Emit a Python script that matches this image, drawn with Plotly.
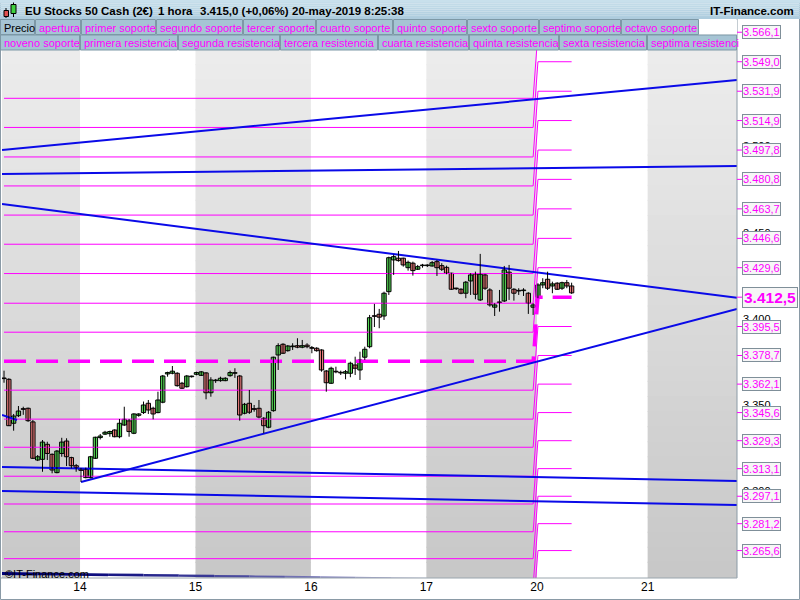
import plotly.graph_objects as go

# ---------------- data ----------------
# hourly bars, index 0 = 14 May 00:00 (weekend removed)
bar_idx = list(range(-16, 103))
opens = [3365.5, 3364.9, 3339.4, 3343.8, 3347.7, 3348.1, 3340.2, 3318.1, 3318.5, 3327.2, 3321.4, 3310.8, 3321.9, 3329.1, 3319.5, 3314.8,
         3312.9, 3312.7, 3307.9, 3319.1, 3331.1, 3333.1, 3333.4, 3335.5, 3331.6, 3338.4, 3340.8, 3333.6, 3344.0, 3345.6, 3351.0, 3348.1,
         3345.6, 3351.6, 3368.0, 3368.4, 3368.4, 3362.6, 3360.6, 3366.4,
         3367.8, 3367.2, 3368.6, 3357.1, 3364.1, 3364.1, 3364.1, 3367.0, 3368.4, 3366.8, 3345.2, 3351.0, 3347.7, 3348.1, 3342.3, 3337.1,
         3346.7, 3379.0, 3385.2, 3381.5, 3383.8, 3384.4, 3383.5, 3384.7,
         3383.1, 3382.9, 3381.9, 3369.7, 3362.6, 3369.3, 3368.8, 3368.4, 3368.4, 3373.2, 3370.3, 3377.7, 3383.8, 3401.6, 3402.6, 3401.6,
         3415.7, 3434.1, 3435.1, 3435.1, 3429.6, 3432.2, 3428.7, 3430.8,
         3430.8, 3430.6, 3433.1, 3430.8, 3429.8, 3426.4, 3417.5, 3417.1, 3414.8, 3421.9, 3426.0, 3410.9, 3425.4, 3416.7, 3406.7, 3409.6,
         3410.3, 3427.0, 3417.1, 3416.3, 3416.3, 3414.8, 3406.7,
         3412.5, 3419.6, 3422.9, 3419.0, 3420.6, 3417.7, 3420.9, 3419.0]
highs = [3369.9, 3365.5, 3344.8, 3349.4, 3349.0, 3348.5, 3341.3, 3321.0, 3329.7, 3328.7, 3321.9, 3323.9, 3331.0, 3330.7, 3320.0, 3315.8,
         3313.5, 3313.7, 3320.5, 3331.6, 3333.2, 3335.0, 3335.1, 3335.9, 3341.9, 3349.0, 3341.9, 3345.2, 3345.2, 3352.0, 3352.9, 3349.0,
         3357.7, 3367.4, 3369.3, 3372.6, 3369.0, 3363.4, 3367.4, 3367.0,
         3369.3, 3369.7, 3369.0, 3366.1, 3365.1, 3366.4, 3366.1, 3369.9, 3371.3, 3367.4, 3351.2, 3358.7, 3350.0, 3352.9, 3343.0, 3346.5,
         3378.0, 3385.8, 3385.8, 3384.8, 3385.8, 3388.7, 3387.7, 3385.8,
         3384.2, 3383.5, 3382.3, 3370.3, 3372.2, 3372.2, 3369.9, 3370.3, 3375.1, 3378.0, 3380.9, 3383.8, 3402.2, 3408.6, 3405.7, 3415.7,
         3436.0, 3437.2, 3439.3, 3435.4, 3433.7, 3433.1, 3431.2, 3431.8,
         3431.6, 3433.5, 3434.1, 3432.2, 3430.8, 3426.7, 3418.0, 3417.7, 3421.9, 3426.4, 3427.3, 3437.6, 3426.0, 3417.7, 3409.0, 3416.7,
         3430.6, 3431.2, 3417.7, 3417.7, 3417.7, 3415.4, 3409.0,
         3420.6, 3423.5, 3427.3, 3421.5, 3421.2, 3421.5, 3422.5, 3420.9]
lows = [3362.9, 3337.8, 3335.1, 3343.0, 3344.3, 3340.2, 3318.7, 3317.5, 3311.3, 3318.1, 3310.4, 3310.4, 3320.0, 3314.6, 3313.3, 3311.3,
        3305.4, 3307.5, 3307.5, 3318.7, 3330.0, 3332.6, 3331.6, 3331.3, 3330.7, 3337.8, 3331.6, 3333.1, 3343.2, 3344.8, 3344.8, 3341.7,
        3345.2, 3351.0, 3366.4, 3367.8, 3360.6, 3359.3, 3360.1, 3365.9,
        3367.2, 3366.8, 3353.3, 3354.8, 3362.8, 3363.5, 3363.8, 3366.4, 3365.7, 3340.9, 3344.6, 3344.8, 3346.1, 3342.3, 3333.6, 3336.5,
        3346.1, 3370.3, 3379.6, 3380.9, 3381.9, 3382.9, 3382.9, 3382.9,
        3380.0, 3380.9, 3369.3, 3357.7, 3362.2, 3368.4, 3367.4, 3364.9, 3366.1, 3367.4, 3364.5, 3376.1, 3382.9, 3395.2, 3394.5, 3399.3,
        3413.8, 3425.4, 3433.1, 3430.2, 3427.9, 3425.0, 3428.3, 3429.6,
        3430.0, 3430.2, 3424.8, 3427.7, 3425.8, 3416.7, 3416.7, 3414.2, 3411.9, 3413.8, 3411.3, 3410.3, 3416.7, 3407.0, 3401.6, 3404.1,
        3409.7, 3410.9, 3410.5, 3413.8, 3413.2, 3402.8, 3402.2,
        3411.9, 3417.7, 3416.7, 3414.8, 3416.7, 3416.7, 3417.7, 3414.4]
closes = [3365.3, 3338.0, 3343.6, 3346.5, 3347.5, 3340.9, 3319.1, 3320.0, 3328.5, 3321.9, 3312.3, 3323.3, 3328.5, 3320.0, 3314.8, 3313.7,
          3312.1, 3307.9, 3320.0, 3331.3, 3332.0, 3334.2, 3334.6, 3331.6, 3339.4, 3341.7, 3334.6, 3344.8, 3344.8, 3350.0, 3347.1, 3344.8,
          3352.9, 3366.8, 3368.8, 3369.6, 3361.2, 3359.7, 3366.8, 3366.6,
          3368.8, 3369.2, 3357.1, 3364.5, 3364.3, 3365.5, 3365.5, 3368.8, 3368.6, 3344.2, 3350.4, 3345.8, 3347.5, 3343.0, 3338.0, 3345.8,
          3377.7, 3384.4, 3380.0, 3384.2, 3384.2, 3383.5, 3384.4, 3383.8,
          3382.9, 3381.5, 3370.3, 3362.9, 3371.3, 3369.2, 3368.6, 3369.3, 3374.2, 3371.3, 3376.1, 3382.3, 3400.6, 3401.4, 3400.9, 3414.8,
          3435.4, 3436.0, 3433.7, 3431.2, 3432.7, 3427.9, 3430.2, 3431.0,
          3430.9, 3432.5, 3429.6, 3428.7, 3426.4, 3417.1, 3417.4, 3414.8, 3421.2, 3425.4, 3414.2, 3425.8, 3417.7, 3408.0, 3408.0, 3409.4,
          3428.3, 3417.7, 3414.8, 3416.1, 3416.5, 3409.0, 3408.0,
          3419.6, 3420.9, 3417.7, 3420.2, 3417.1, 3420.9, 3419.0, 3415.0]

day_labels = ["14", "15", "16", "17", "20", "21"]
day_start = [0, 24, 48, 72, 95, 118]
new_week_start = 95

# weekly pivot levels: previous week -> current week
old_apertura, new_apertura = 3375.4, 3412.5
old_res = [3392.2, 3409.0, 3426.2, 3443.2, 3460.1, 3477.0, 3493.8, 3510.9, 3527.8]
new_res = [3429.6, 3446.6, 3463.7, 3480.8, 3497.8, 3514.9, 3531.9, 3549.0, 3566.1]
old_sup = [3358.6, 3341.8, 3325.5, 3308.7, 3292.6, 3276.5, 3260.9, 3245.5, 3230.3]
new_sup = [3395.5, 3378.7, 3362.1, 3345.6, 3329.3, 3313.1, 3297.1, 3281.2, 3265.6]

# trend lines (bar index, price)
trend_x0 = [-16.42, -16.42, -16.42, 0.0, -16.42, -16.42, -16.42]
trend_y0 = [3497.8, 3483.9, 3466.5, 3305.4, 3314.1, 3300.2, 3344.2]
trend_x1 = [136.38, 136.38, 136.38, 136.38, 136.38, 136.38, -13.3]
trend_y1 = [3538.4, 3488.6, 3412.1, 3405.7, 3306.0, 3292.0, 3341.3]
navy_x = [-16.42, 71.8]
navy_y = [3252.3, 3249.4]

axis_ticks = [3500, 3450, 3400, 3350, 3300]

legend_row1 = ["Precio", "apertura", "primer soporte", "segundo soporte", "tercer soporte", "cuarto soporte",
               "quinto soporte", "sexto soporte", "septimo soporte", "octavo soporte"]
legend_row2 = ["noveno soporte", "primera resistencia", "segunda resistencia", "tercera resistencia",
               "cuarta resistencia", "quinta resistencia", "sexta resistencia", "septima resistenci"]

title_parts = ["EU Stocks 50 Cash (2€)", "1 hora", "3.415,0 (+0,06%)", "20-may-2019 8:25:38"]

# ---------------- layout geometry ----------------
W, H = 800, 600
X0, X1, YT, YB = 2, 737, 35, 578
xr = [-16.42, 136.38]
yr = [3249.7, 3564.5]
FONT = "Liberation Sans, Arial, sans-serif"
MAG = "#ff00ff"

def pxx(x):
    return (x - X0) / (X1 - X0)

def pxy(y):
    return (YB - y) / (YB - YT)

def vy(v):
    return (v - yr[0]) / (yr[1] - yr[0])

def fmt(v):
    s = f"{v:,.1f}"
    return s.replace(",", "#").replace(".", ",").replace("#", ".")

fig = go.Figure()
shapes = []
ann = []

# alternating day bands with vertical gradient
bounds = [xr[0]] + [d - 0.2 for d in day_start] + [xr[1]]
N = 36
for k in range(len(bounds) - 1):
    if k % 2 == 0:
        a, b = bounds[k], bounds[k + 1]
        for j in range(N):
            t = j / (N - 1)
            g = int(238 - 38 * t)
            shapes.append(dict(type="rect", xref="x", yref="paper", x0=a, x1=b,
                               y0=1 - (j + 1) / N, y1=1 - j / N + 0.002,
                               fillcolor=f"rgb({g},{g},{g})", line=dict(width=0), layer="below"))

# pivot level lines
n_old = sum(1 for i in bar_idx if i < new_week_start)
n_new = len(bar_idx) - n_old
for o, n in zip(old_res + old_sup, new_res + new_sup):
    fig.add_trace(go.Scatter(x=bar_idx, y=[o] * n_old + [n] * n_new, mode="lines",
                             line=dict(color=MAG, width=1), hoverinfo="skip", showlegend=False))
fig.add_trace(go.Scatter(x=bar_idx, y=[old_apertura] * n_old + [new_apertura] * n_new, mode="lines",
                         line=dict(color=MAG, width=3.5, dash="22px,10px"), hoverinfo="skip", showlegend=False))

# trend lines
for xa, ya, xb, yb in zip(trend_x0, trend_y0, trend_x1, trend_y1):
    fig.add_trace(go.Scatter(x=[xa, xb], y=[ya, yb], mode="lines",
                             line=dict(color="#0a0ae8", width=2), hoverinfo="skip", showlegend=False))
NS = 12
for j in range(NS):
    t0, t1 = j / NS, (j + 1) / NS
    xa = navy_x[0] + (navy_x[1] - navy_x[0]) * t0
    xb = navy_x[0] + (navy_x[1] - navy_x[0]) * t1
    ya = navy_y[0] + (navy_y[1] - navy_y[0]) * t0
    yb = navy_y[0] + (navy_y[1] - navy_y[0]) * t1
    c = [int(210 * t0 ** 1.5), int(210 * t0 ** 1.5), int(120 + 110 * t0 ** 1.5)]
    fig.add_trace(go.Scatter(x=[xa, xb], y=[ya, yb], mode="lines",
                             line=dict(color=f"rgb({c[0]},{c[1]},{c[2]})", width=3 - 1.5 * t0),
                             hoverinfo="skip", showlegend=False))

# candles: wicks
wx, wy = [], []
for i, h, l in zip(bar_idx, highs, lows):
    wx += [i, i, None]
    wy += [l, h, None]
fig.add_trace(go.Scatter(x=wx, y=wy, mode="lines", line=dict(color="black", width=1),
                         hoverinfo="skip", showlegend=False))
# candles: bodies
for up, col in ((True, "#55d655"), (False, "#e87c7c")):
    xs, bases, hs = [], [], []
    for i, o, c in zip(bar_idx, opens, closes):
        if (c >= o) == up:
            xs.append(i)
            bases.append(min(o, c))
            hs.append(max(abs(c - o), 0.35))
    fig.add_trace(go.Bar(x=xs, y=hs, base=bases, width=0.9, marker=dict(color=col, line=dict(color="black", width=1)),
                         hoverinfo="skip", showlegend=False))

# frame lines
shapes.append(dict(type="line", xref="paper", yref="paper", x0=pxx(X1), x1=pxx(X1), y0=pxy(YB), y1=pxy(19),
                   line=dict(color="#8a9aa6", width=1)))
shapes.append(dict(type="rect", xref="paper", yref="paper", x0=pxx(0.5), x1=pxx(799.5), y0=pxy(599.5), y1=pxy(0.5),
                   line=dict(color="#8a9aa6", width=1), fillcolor="rgba(0,0,0,0)"))
shapes.append(dict(type="line", xref="paper", yref="paper", x0=pxx(0.5), x1=pxx(X1), y0=pxy(YB), y1=pxy(YB),
                   line=dict(color="#9aa6ae", width=1)))

# header bar
NH = 10
for j in range(NH):
    t = j / (NH - 1)
    r, g, b = int(200 - 26 * t), int(224 - 20 * t), int(236 - 14 * t)
    shapes.append(dict(type="rect", xref="paper", yref="paper", x0=pxx(0), x1=pxx(800),
                       y0=pxy(1.9 * (j + 1)), y1=pxy(1.9 * j), fillcolor=f"rgb({r},{g},{b})", line=dict(width=0)))
# candle icon
shapes += [
    dict(type="line", xref="paper", yref="paper", x0=pxx(6), x1=pxx(6), y0=pxy(18), y1=pxy(8), line=dict(color="black", width=1)),
    dict(type="rect", xref="paper", yref="paper", x0=pxx(4), x1=pxx(8.5), y0=pxy(16.5), y1=pxy(10.5), fillcolor="#e05050", line=dict(color="black", width=1)),
    dict(type="line", xref="paper", yref="paper", x0=pxx(13.5), x1=pxx(13.5), y0=pxy(17), y1=pxy(2.5), line=dict(color="black", width=1)),
    dict(type="rect", xref="paper", yref="paper", x0=pxx(11), x1=pxx(16), y0=pxy(13.5), y1=pxy(4.5), fillcolor="#40d040", line=dict(color="black", width=1)),
]
title_x = [23, 156, 198, 290]
for txt, x in zip(title_parts, title_x):
    ann.append(dict(text=f"<b>{txt}</b>", xref="paper", yref="paper", x=pxx(x), y=pxy(10.5), xanchor="left", yanchor="middle",
                    showarrow=False, font=dict(family=FONT, size=11.5, color="black")))
ann.append(dict(text="<b>IT-Finance.com</b>", xref="paper", yref="paper", x=pxx(796), y=pxy(10.5), xanchor="right",
                yanchor="middle", showarrow=False, font=dict(family=FONT, size=11.5, color="black")))

# legend boxes
row1_edges = [0, 35, 81, 156, 243, 316, 393, 467, 539, 621, 699]
row2_edges = [0, 80, 178, 280, 378, 469, 559, 647, 737]
shapes.append(dict(type="rect", xref="paper", yref="paper", x0=pxx(699), x1=pxx(X1), y0=pxy(34.5), y1=pxy(19.5),
                   fillcolor="white", line=dict(width=0)))
for names, edges, y0, y1 in ((legend_row1, row1_edges, 19.5, 34.5), (legend_row2, row2_edges, 35, 50)):
    for k, name in enumerate(names):
        a, b = edges[k] + 0.5, edges[k + 1] - 0.5
        shapes.append(dict(type="rect", xref="paper", yref="paper", x0=pxx(a), x1=pxx(b), y0=pxy(y1), y1=pxy(y0),
                           fillcolor="#a6c4d4", line=dict(color="#7d98a6", width=1)))
        ann.append(dict(text=name, xref="paper", yref="paper", x=pxx(a + 1.5), y=pxy((y0 + y1) / 2 + 0.5),
                        xanchor="left", yanchor="middle", showarrow=False,
                        font=dict(family=FONT, size=11, color="black" if name == "Precio" else MAG)))

# right axis: black tick labels (partly hidden) then level labels
for v in axis_ticks:
    ann.append(dict(text=f"{v:,}".replace(",", "."), xref="paper", yref="paper", x=pxx(741), y=vy(v), xanchor="left",
                    yanchor="middle", showarrow=False, font=dict(family=FONT, size=11, color="black")))
for v in new_res + new_sup:
    shapes.append(dict(type="line", xref="paper", yref="paper", x0=pxx(X1), x1=pxx(742), y0=vy(v), y1=vy(v),
                       line=dict(color=MAG, width=1)))
    ann.append(dict(text=fmt(v), xref="paper", yref="paper", x=pxx(742), y=vy(v), xanchor="left", yanchor="middle",
                    showarrow=False, bgcolor="#f6f6f6", bordercolor="#7f8f99", borderwidth=1, borderpad=0,
                    font=dict(family=FONT, size=11, color=MAG)))
shapes.append(dict(type="line", xref="paper", yref="paper", x0=pxx(X1), x1=pxx(742), y0=vy(new_apertura), y1=vy(new_apertura),
                   line=dict(color=MAG, width=1)))
ann.append(dict(text=f"<b>{fmt(new_apertura)}</b>", xref="paper", yref="paper", x=pxx(742), y=vy(new_apertura), xanchor="left",
                yanchor="middle", showarrow=False, bgcolor="#f6f6f6", bordercolor="#7f8f99", borderwidth=1, borderpad=1,
                font=dict(family=FONT, size=15.5, color=MAG)))

# watermark
ann.append(dict(text="©IT-Finance.com", xref="paper", yref="paper", x=pxx(3), y=pxy(574), xanchor="left",
                yanchor="middle", showarrow=False, font=dict(family=FONT, size=11, color="black")))

fig.update_layout(
    width=W, height=H,
    margin=dict(l=X0, r=W - X1, t=YT, b=H - YB),
    paper_bgcolor="white", plot_bgcolor="white",
    barmode="overlay", showlegend=False,
    shapes=shapes, annotations=ann,
    xaxis=dict(range=xr, showgrid=False, zeroline=False, showline=False,
               tickvals=[d - 0.2 for d in day_start], ticktext=day_labels, ticks="",
               tickfont=dict(family=FONT, size=12, color="black")),
    yaxis=dict(range=yr, visible=False, showgrid=False, zeroline=False),
)

fig.write_html("out.html", config={"displayModeBar": False},
               post_script="document.body.style.margin='0';document.body.style.overflow='hidden';")
